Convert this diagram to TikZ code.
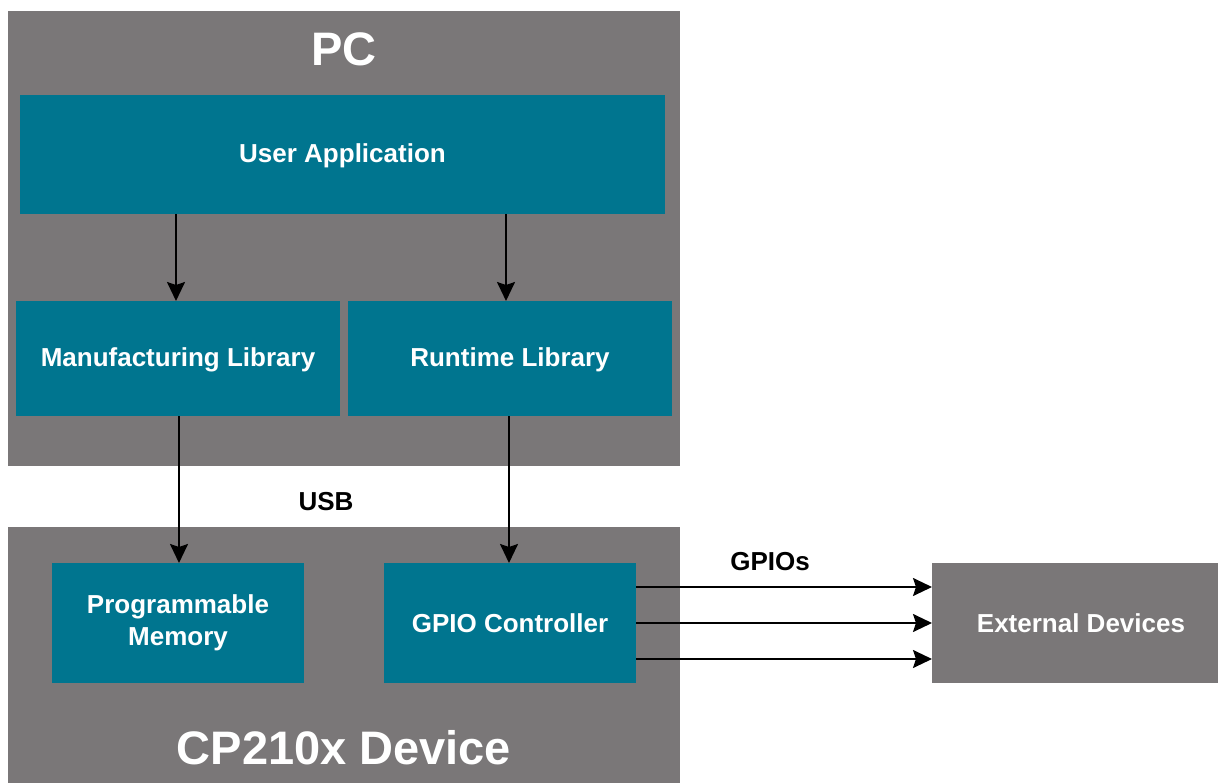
\documentclass[tikz,border=0pt]{standalone}
\usepackage{fontspec}
\setmainfont{Liberation Sans}
\usetikzlibrary{arrows.meta}
\definecolor{boxgray}{HTML}{7A7778}
\definecolor{teal}{HTML}{00758F}
\begin{document}
\begin{tikzpicture}[x=1pt,y=-1pt,
  graybox/.style={fill=boxgray,draw=none,inner sep=0pt,outer sep=0pt},
  tealbox/.style={fill=teal,draw=none,inner sep=0pt,outer sep=0pt,text=white,
    font=\fontsize{26}{32}\selectfont\bfseries,align=center},
  title/.style={text=white,font=\fontsize{47}{52}\selectfont\bfseries,inner sep=0pt},
  lbl/.style={text=black,font=\fontsize{26}{30}\selectfont\bfseries,inner sep=0pt},
  arr/.style={line width=2pt,-{Stealth[length=19pt,width=18pt,inset=3pt]}}]
\fill[white] (0,0) rectangle (1218,783);
\useasboundingbox (0,0) rectangle (1218,783);
% containers
\node[graybox,minimum width=672pt,minimum height=455pt] (pc) at (344,238.5) {};
\node[graybox,minimum width=672pt,minimum height=256pt] (dev) at (344,655) {};
\node[title] (pct) at (344,49) {PC};
\node[title] (devt) at (344,748) {CP210x Device};
% inner boxes
\node[tealbox,minimum width=645pt,minimum height=119pt,text depth=3pt] (ua) at (342.5,154.5) {User Application};
\node[tealbox,minimum width=324pt,minimum height=115pt,text depth=3pt] (ml) at (178,358.5) {Manufacturing Library};
\node[tealbox,minimum width=324pt,minimum height=115pt,text depth=3pt] (rl) at (510,358.5) {Runtime Library};
\node[tealbox,minimum width=252pt,minimum height=120pt] (pm) at (178,623) {Programmable\\Memory};
\node[tealbox,minimum width=252pt,minimum height=120pt] (gc) at (510,623) {GPIO Controller};
\node[graybox,minimum width=286pt,minimum height=120pt] (ext) at (1075,623) {};
\node[text=white,font=\fontsize{26}{32}\selectfont\bfseries,inner sep=0pt] (extt) at (1081,623) {External Devices};
% labels
\node[lbl] (usb) at (326,502) {USB};
\node[lbl] (gpios) at (770,562) {GPIOs};
% arrows
\draw[arr] (ua.south -| 176,0) -- (ml.north -| 176,0);
\draw[arr] (ua.south -| 506,0) -- (rl.north -| 506,0);
\draw[arr] (ml.south -| 179,0) -- (pm.north -| 179,0);
\draw[arr] (rl.south -| 509,0) -- (gc.north -| 509,0);
\draw[arr] (gc.east |- 0,587) -- (ext.west |- 0,587);
\draw[arr] (gc.east |- 0,623) -- (ext.west |- 0,623);
\draw[arr] (gc.east |- 0,659) -- (ext.west |- 0,659);
\end{tikzpicture}
\end{document}
